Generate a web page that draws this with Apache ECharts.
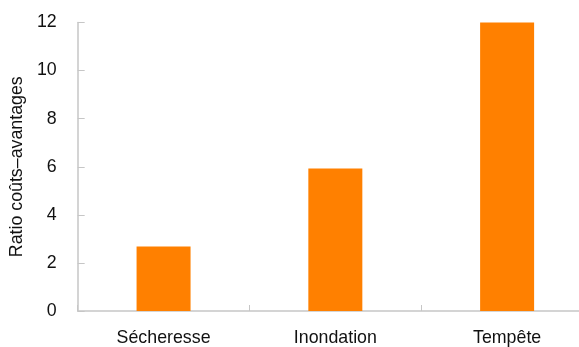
<!DOCTYPE html>
<html><head><meta charset="utf-8">
<script src="https://cdn.jsdelivr.net/npm/echarts@6/dist/echarts.min.js"></script>
<style>html,body{margin:0;padding:0;background:#fff;overflow:hidden}#c{width:593px;height:347px}</style>
</head><body><div id="c"></div>
<script>
const categories = ['Sécheresse', 'Inondation', 'Tempête'];
const ratioValues = [2.68, 5.93, 12.0];
const yTicks = [0, 2, 4, 6, 8, 10, 12];
const yAxisTitle = 'Ratio coûts–avantages';

const font = "'Liberation Sans', Arial, sans-serif";
const axisColor = '#c6c6c6';
const chart = echarts.init(document.getElementById('c'), null, {renderer: 'canvas'});
chart.setOption({
  animation: false,
  grid: {left: 77.5, top: 22.5, right: 0, bottom: 35, containLabel: false},
  xAxis: {
    type: 'category',
    data: categories,
    axisLine: {lineStyle: {color: axisColor, width: 1.5}},
    axisTick: {show: true, inside: true, length: 6, lineStyle: {color: axisColor, width: 1}},
    axisLabel: {color: '#111', fontFamily: font, fontSize: 17.8, margin: 18}
  },
  yAxis: {
    type: 'value',
    min: yTicks[0], max: yTicks[yTicks.length - 1], interval: 2,
    name: yAxisTitle,
    nameLocation: 'middle',
    nameGap: 46,
    nameTextStyle: {color: '#111', fontFamily: font, fontSize: 17.8},
    axisLine: {show: true, lineStyle: {color: axisColor, width: 1.5}},
    axisTick: {show: true, inside: true, length: 7, lineStyle: {color: axisColor, width: 1}},
    splitLine: {show: false},
    axisLabel: {color: '#111', fontFamily: font, fontSize: 17.8, margin: 21}
  },
  series: [{
    type: 'bar',
    data: ratioValues,
    barWidth: 54,
    itemStyle: {color: '#FF8000'}
  }]
});
</script></body></html>
